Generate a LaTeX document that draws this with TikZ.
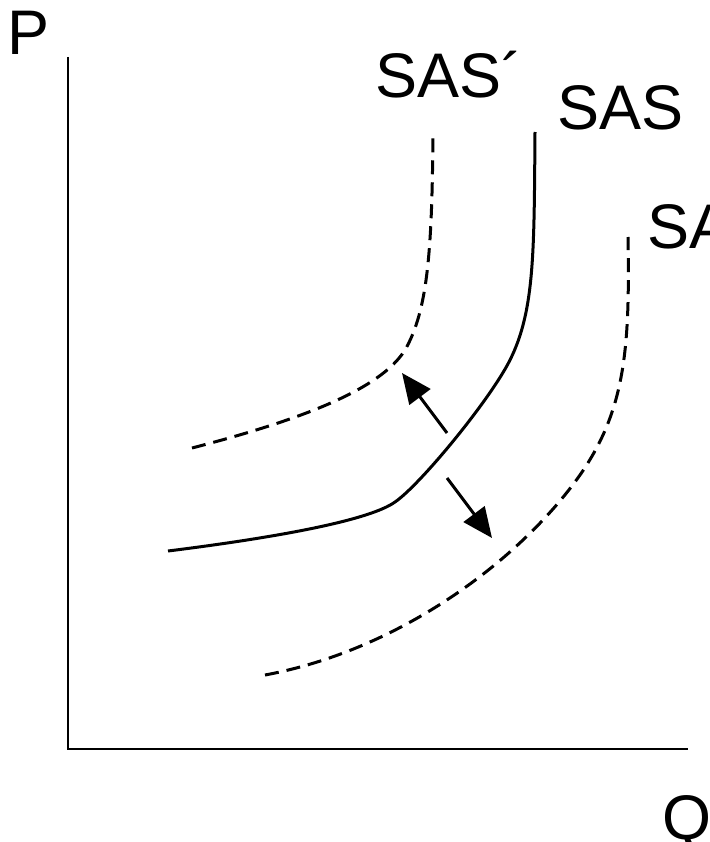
\documentclass[tikz,border=0pt]{standalone}
\usepackage{fontspec}
\setmainfont{Liberation Sans}
\usetikzlibrary{arrows.meta}
\begin{document}
\begin{tikzpicture}[x=1pt,y=-1pt,
  lbl/.style={inner sep=0pt,anchor=base west,font=\fontsize{63}{70}\selectfont},
  curve/.style={line width=3pt},
  dcurve/.style={line width=3pt,dash pattern=on 14pt off 8pt},
  axis/.style={line width=1.8pt},
  shift arrow/.style={line width=3pt,-{Triangle[length=30pt,width=26pt]}}]
\useasboundingbox (0,0) rectangle (709,842);
% axes
\coordinate (ytop) at (68,57);
\coordinate (orig) at (68,749);
\coordinate (xend) at (688,749);
\draw[axis] (ytop) -- (orig) -- (xend);
\node[lbl] (P) at (7,55) {P};
\node[lbl] (Q) at (662,839) {Q};
% SAS
\draw[curve] (168,551) .. controls (280,537) and (370,520) .. (395,502)
  .. controls (420,485) and (490,400) .. (510,360)
  .. controls (535,310) and (534,250) .. (535,132);
% SAS'
\draw[dcurve] (192,448) .. controls (300,420) and (380,390) .. (405,350)
  .. controls (428,310) and (432,250) .. (433,132);
% SAS''
\draw[dcurve] (265,675) .. controls (400,650) and (520,560) .. (580,475)
  .. controls (625,410) and (630,350) .. (628,237);
% labels
\node[lbl] (sasp) at (375,98) {SAS´};
\node[lbl] (sas) at (557,130) {SAS};
\node[lbl] (saspp) at (647,248) {SAS´´};
% arrows
\coordinate (a1) at (447,433);
\coordinate (a1t) at (402,373);
\coordinate (a2) at (447,478);
\coordinate (a2t) at (492,538);
\draw[shift arrow] (a1) -- (a1t);
\draw[shift arrow] (a2) -- (a2t);
\end{tikzpicture}
\end{document}
